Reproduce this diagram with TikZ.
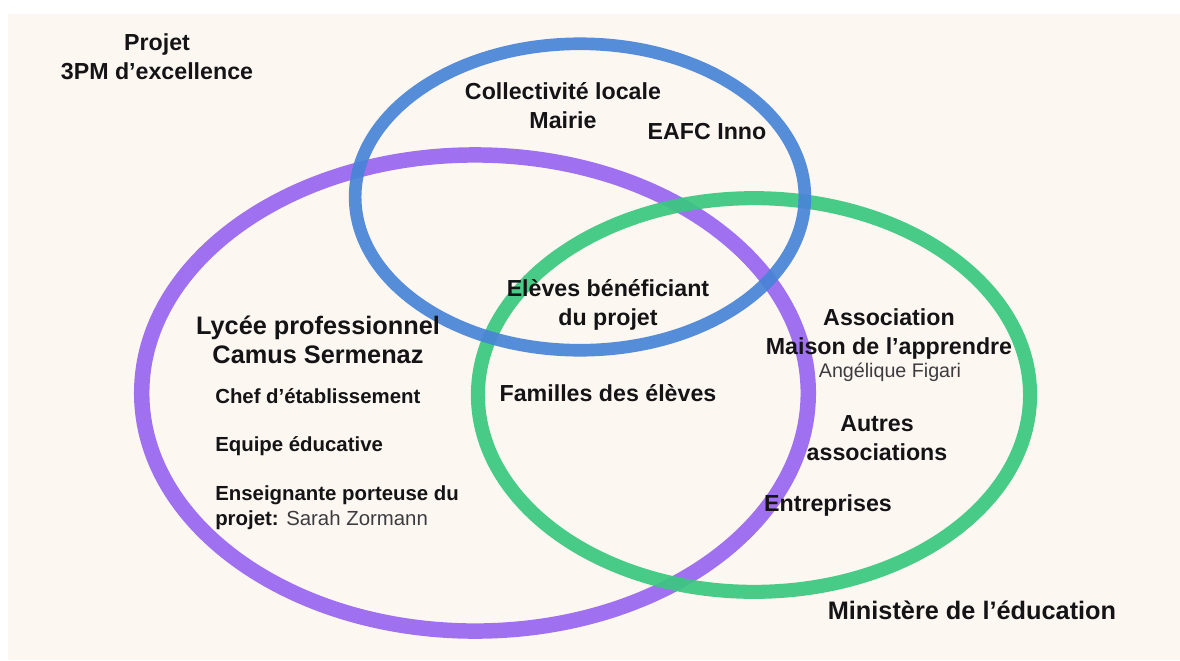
\documentclass[tikz,border=0pt]{standalone}
\usepackage{fontspec}
\setmainfont{Liberation Sans}
\definecolor{cream}{RGB}{253,247,241}
\definecolor{vblue}{RGB}{72,132,214}
\definecolor{vpurple}{RGB}{152,102,240}
\definecolor{vgreen}{RGB}{58,200,128}
\definecolor{ink}{RGB}{20,20,22}
\definecolor{inkgrey}{RGB}{60,60,64}
\tikzset{
  big/.style={font=\bfseries\fontsize{18}{21}\selectfont,text=ink,align=center,inner sep=0pt},
  lbl/.style={font=\bfseries\fontsize{16.5}{20.5}\selectfont,text=ink,align=center,inner sep=0pt},
  small/.style={font=\bfseries\fontsize{14.5}{17.5}\selectfont,text=ink,anchor=west,inner sep=0pt},
  who/.style={font=\fontsize{14}{17}\selectfont,text=inkgrey},
  ring/.style={line width=#1,opacity=0.92}
}
\begin{document}
\begin{tikzpicture}[x=0.025cm,y=-0.025cm]
\useasboundingbox (0,0) rectangle (1180,660);
\fill[white] (0,0) rectangle (1180,660);
\fill[cream] (8,14) rectangle (1180,660);
\draw[ring=11pt,vpurple] (475,393) ellipse [x radius=8.33cm,y radius=5.95cm];
\draw[ring=10pt,vgreen] (754,395) ellipse [x radius=6.9cm,y radius=4.92cm];
\draw[ring=9pt,vblue] (580,197) ellipse [x radius=5.62cm,y radius=3.83cm];
\node[lbl] (projet) at(157,57){Projet\\3PM d'excellence};
\node[lbl] (mairie) at(563,106){Collectivité locale\\Mairie};
\node[lbl] (eafc) at(707,132){EAFC Inno};
\node[lbl] (eleves) at(608,305){Elèves bénéficiant\\du projet};
\node[lbl] (familles) at(608,393){Familles des élèves};
\node[big] (lycee) at(318,340){Lycée professionnel\\Camus Sermenaz};
\node[small] (chef) at(215,396){Chef d'établissement};
\node[small] (equipe) at(215,446){Equipe éducative};
\node[small,align=left] (prof) at(215,508){Enseignante porteuse du\\projet: {\mdseries\color{inkgrey}Sarah Zormann}};
\node[lbl] (asso) at(889,334){Association\\Maison de l'apprendre};
\node[who] (figari) at(890,372){Angélique Figari};
\node[lbl] (autres) at(877,438){Autres\\associations};
\node[lbl] (entreprises) at(828,505){Entreprises};
\node[big] (ministere) at(972,610){Ministère de l'éducation};
\end{tikzpicture}
\end{document}
